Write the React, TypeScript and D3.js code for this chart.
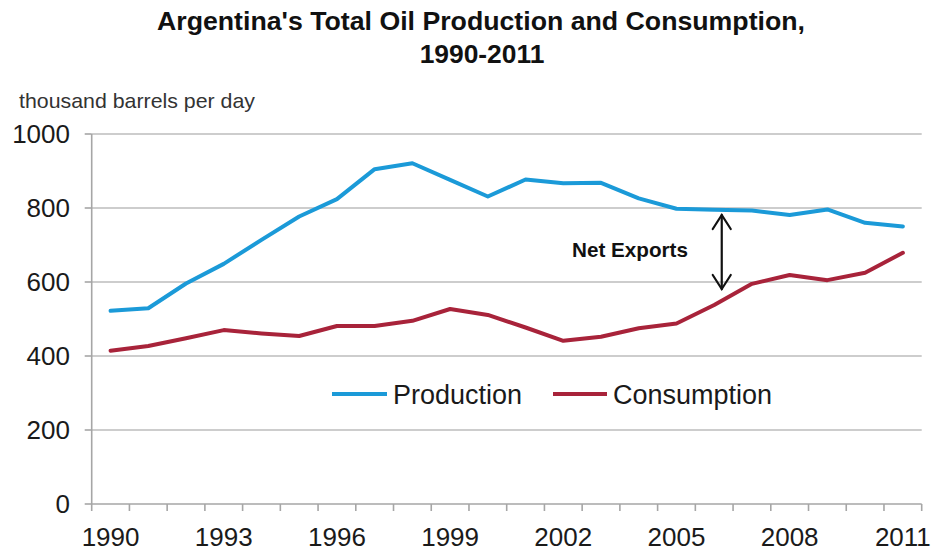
import React from "react";
import * as d3 from "d3";

const years = [1990,1991,1992,1993,1994,1995,1996,1997,1998,1999,2000,2001,2002,2003,2004,2005,2006,2007,2008,2009,2010,2011];
const production = [522,529,596,649,714,777,824,905,921,876,831,877,867,868,826,798,795,793,781,796,760,750];
const consumption = [414,427,448,470,461,454,481,481,495,527,511,477,441,452,475,488,538,595,619,605,625,679];
const yTicks = [0,200,400,600,800,1000];
const xLabelYears = [1990,1993,1996,1999,2002,2005,2008,2011];
const seriesNames = ["Production","Consumption"];
const seriesColors = ["#1B9AD8","#A8233A"];
const titleLines = ["Argentina's Total Oil Production and Consumption,","1990-2011"];
const yLabel = "thousand barrels per day";
const annotation = { text: "Net Exports", year: 2006.2, top: 781, bottom: 581 };

const W = 937, H = 552;
const left = 91.7, right = 921.7, top = 134, bottom = 504;
const FONT = "'Liberation Sans', Arial, sans-serif";

export default function App() {
  const x = d3.scaleBand<number>().domain(years).range([left, right]).padding(0);
  const cx = (yr: number) => (x(yr) as number) + x.bandwidth() / 2;
  const xLin = d3.scaleLinear().domain([years[0], years[years.length - 1]]).range([cx(years[0]), cx(years[years.length - 1])]);
  const y = d3.scaleLinear().domain([0, 1000]).range([bottom, top]);
  const line = d3.line<number>().x((_, i) => cx(years[i])).y(d => y(d));
  const boundaries = d3.range(years.length + 1).map(i => left + i * x.bandwidth());

  const ax = xLin(annotation.year);
  const ay1 = y(annotation.top);
  const ay2 = y(annotation.bottom);
  const ah = 14, aw = 9;

  return (
    <svg width={W} height={H} style={{ position: "absolute", left: 0, top: 0, background: "#fff" }} fontFamily={FONT}>
      <rect width={W} height={H} fill="#fff" />
      {/* title */}
      <text x={481} y={30} textAnchor="middle" fontWeight="bold" fontSize={26.6} fill="#111" textLength={648} lengthAdjust="spacingAndGlyphs">{titleLines[0]}</text>
      <text x={482} y={63} textAnchor="middle" fontWeight="bold" fontSize={26.4} fill="#111">{titleLines[1]}</text>
      {/* y label */}
      <text x={19} y={108} fontSize={21} fill="#333" textLength={236} lengthAdjust="spacingAndGlyphs">{yLabel}</text>
      {/* gridlines */}
      {yTicks.filter(t => t > 0).map(t => (
        <line key={t} x1={left} x2={right} y1={y(t)} y2={y(t)} stroke="#BDBDBD" strokeWidth={1.6} />
      ))}
      {/* axes */}
      <line x1={left} x2={left} y1={top} y2={bottom} stroke="#A6A6A6" strokeWidth={1.6} />
      <line x1={left} x2={right} y1={bottom} y2={bottom} stroke="#A6A6A6" strokeWidth={1.6} />
      {yTicks.map(t => (
        <g key={t}>
          <line x1={left - 7} x2={left} y1={y(t)} y2={y(t)} stroke="#A6A6A6" strokeWidth={1.6} />
          <text x={70} y={y(t)} dy="0.35em" textAnchor="end" fontSize={26} fill="#1a1a1a">{t}</text>
        </g>
      ))}
      {boundaries.map((bx, i) => (
        <line key={i} x1={bx} x2={bx} y1={bottom} y2={bottom + 7} stroke="#A6A6A6" strokeWidth={1.6} />
      ))}
      {xLabelYears.map(yr => (
        <text key={yr} x={cx(yr)} y={546} textAnchor="middle" fontSize={26} fill="#1a1a1a">{yr}</text>
      ))}
      {/* series */}
      {[production, consumption].map((s, i) => (
        <path key={i} d={line(s) as string} fill="none" stroke={seriesColors[i]} strokeWidth={4} strokeLinejoin="round" strokeLinecap="round" />
      ))}
      {/* annotation */}
      <g stroke="#111" strokeWidth={2.2} fill="none" strokeLinecap="round">
        <line x1={ax} x2={ax} y1={ay1} y2={ay2} />
        <polyline points={`${ax - aw},${ay1 + ah} ${ax},${ay1} ${ax + aw},${ay1 + ah}`} />
        <polyline points={`${ax - aw},${ay2 - ah} ${ax},${ay2} ${ax + aw},${ay2 - ah}`} />
      </g>
      <text x={572} y={257} fontWeight="bold" fontSize={20.5} fill="#111" textLength={116} lengthAdjust="spacingAndGlyphs">{annotation.text}</text>
      {/* legend */}
      <line x1={332} x2={387} y1={394} y2={394} stroke={seriesColors[0]} strokeWidth={4} />
      <text x={393} y={403.5} fontSize={27} fill="#1a1a1a">{seriesNames[0]}</text>
      <line x1={553} x2={607} y1={394} y2={394} stroke={seriesColors[1]} strokeWidth={4} />
      <text x={613} y={403.5} fontSize={27} fill="#1a1a1a">{seriesNames[1]}</text>
    </svg>
  );
}
